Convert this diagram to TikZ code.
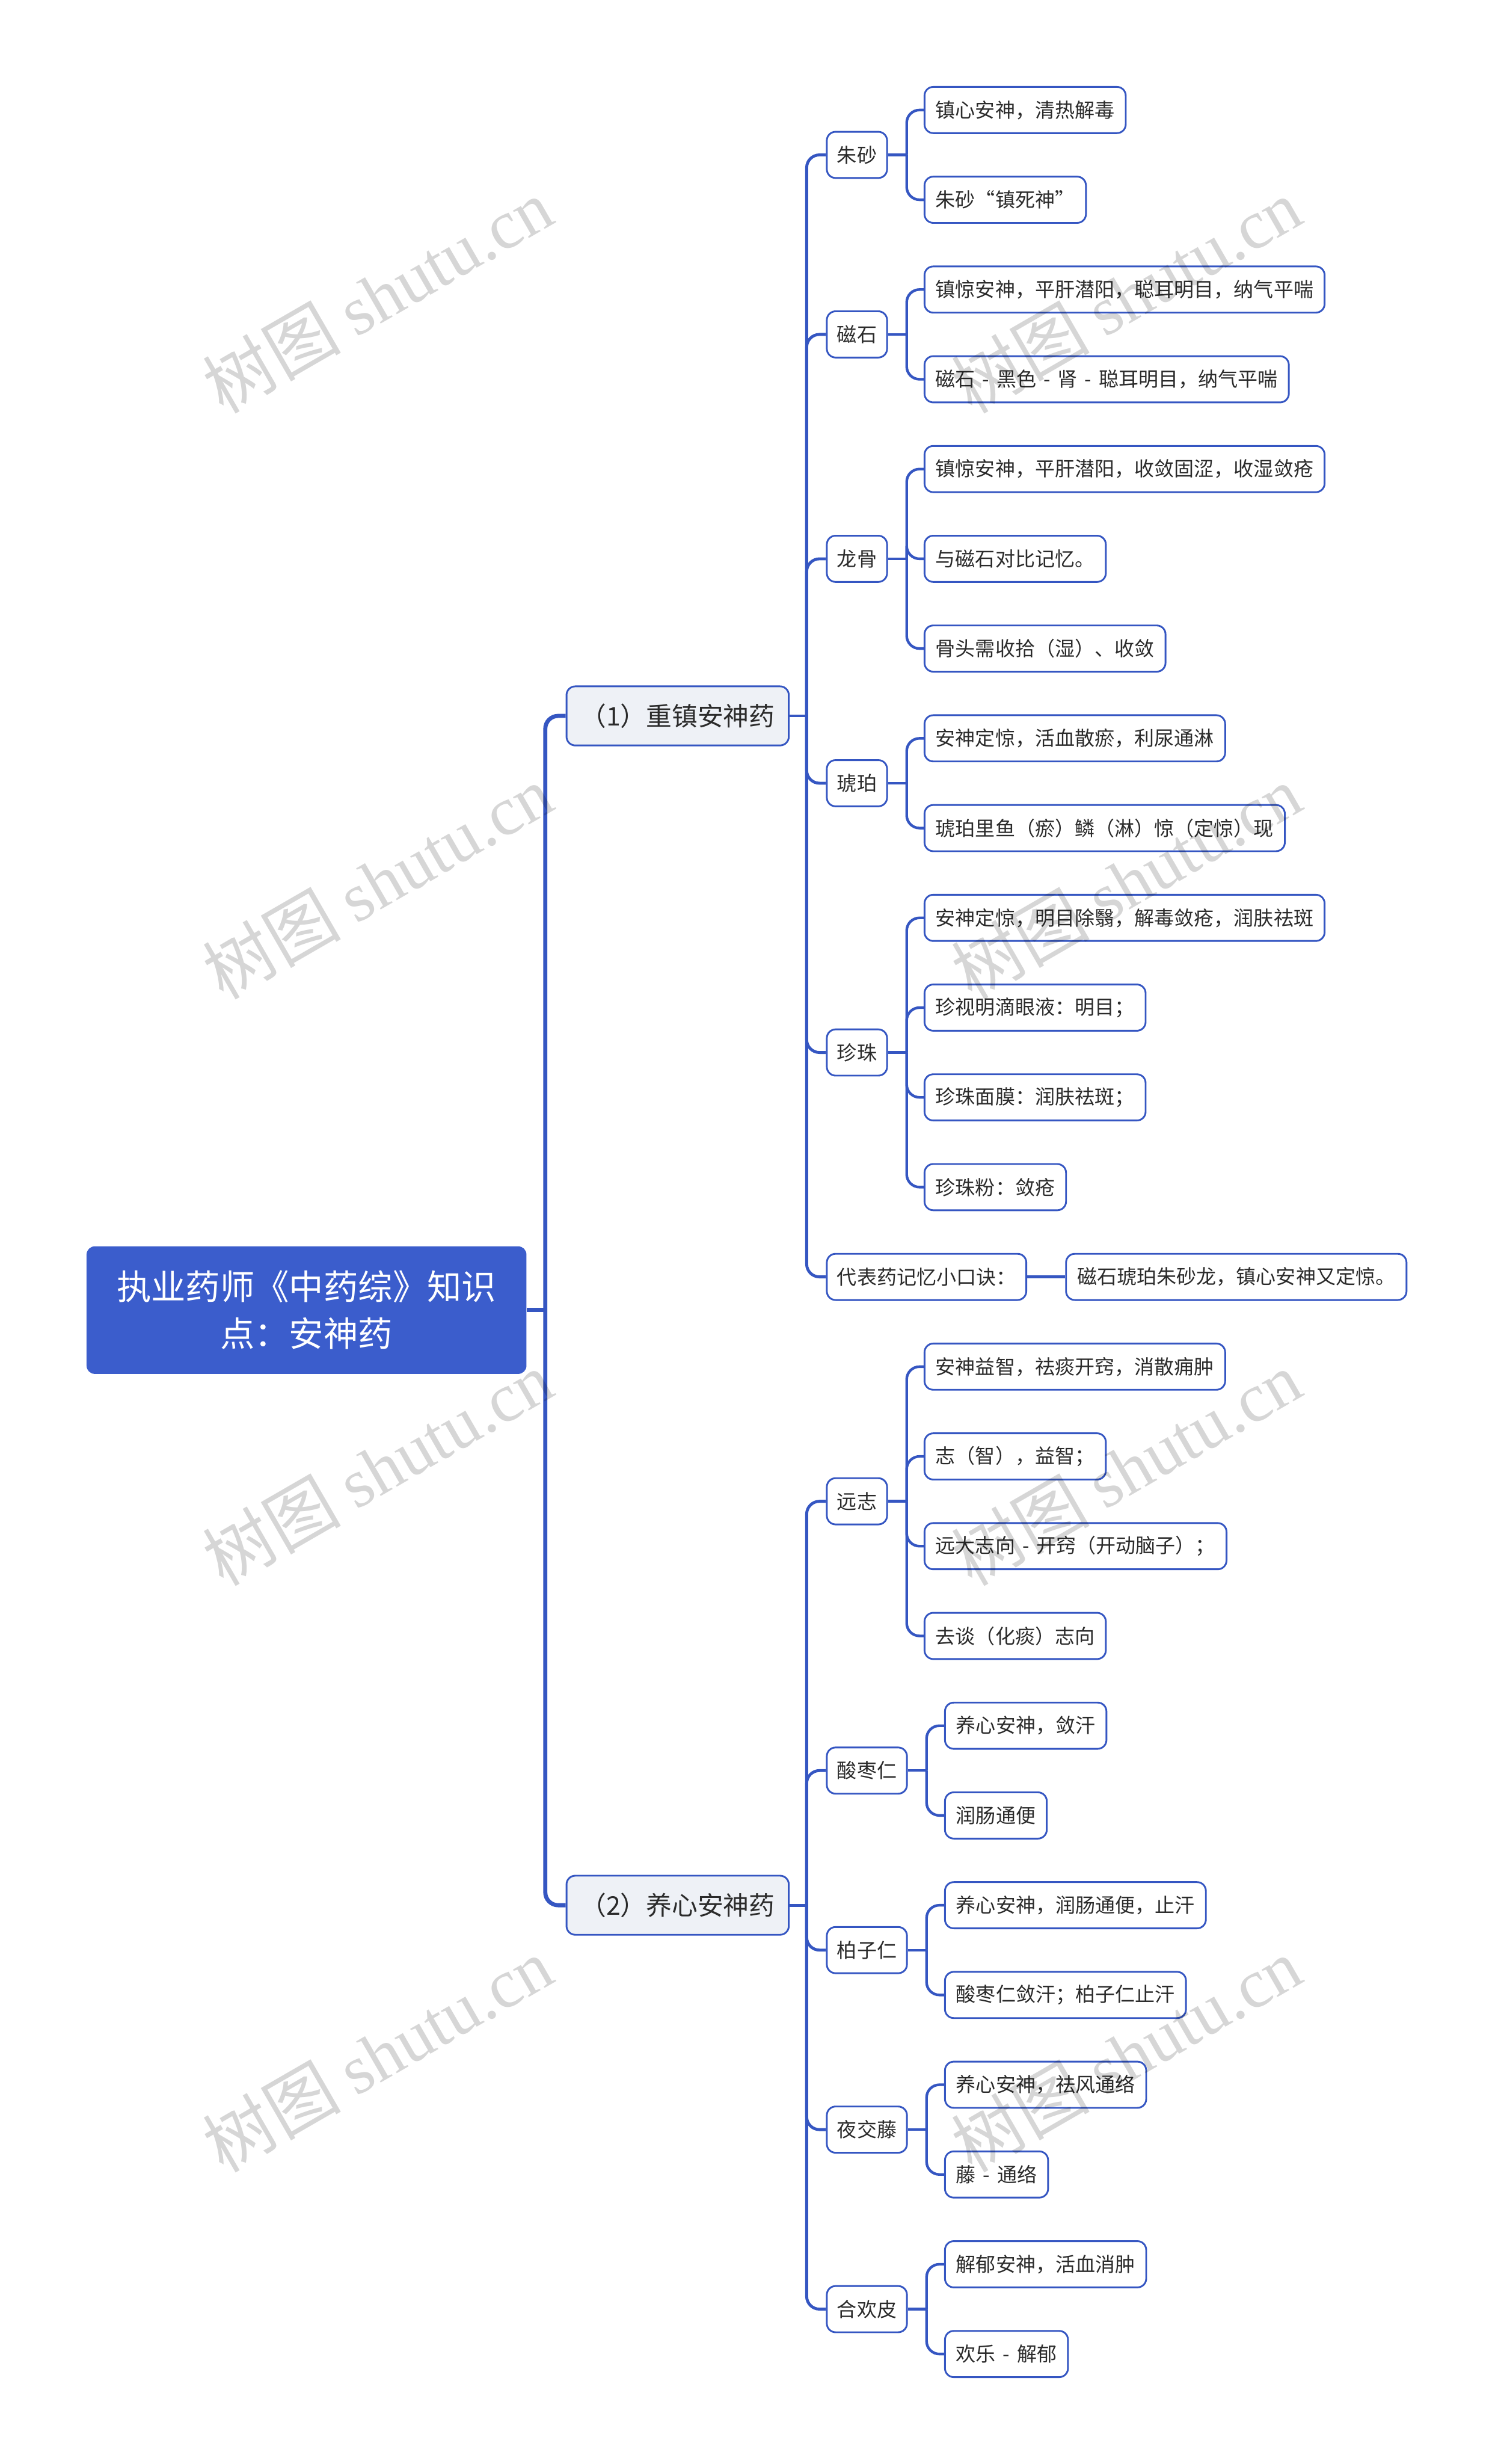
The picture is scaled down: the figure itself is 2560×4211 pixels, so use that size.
\documentclass[tikz,border=0pt]{standalone}
\usepackage{fontspec}
\setmainfont{Noto Sans CJK SC}
\newfontfamily\wmlatin{Liberation Serif}
\definecolor{lineblue}{HTML}{3556C2}
\definecolor{rootblue}{HTML}{3B5DCC}
\definecolor{secfill}{HTML}{EEF1F6}
\definecolor{txt}{HTML}{2B2B2B}
\def\R#1{(188+153.4*(#1))}
\newcommand\hy{\hspace{0.36em}-\hspace{0.36em}}
\tikzset{
  itembox/.style={draw=lineblue, line width=3pt, rounded corners=15pt, text=txt, anchor=west,
    inner xsep=17.5pt, inner ysep=0pt, minimum height=79pt, fill=white,
    font=\fontsize{34}{40}\selectfont},
  leafbox/.style={itembox, inner xsep=19pt},
  secbox/.style={itembox, fill=secfill, font=\fontsize{44}{50}\selectfont,
    minimum height=101pt, minimum width=380pt, inner xsep=0pt},
  rootbox/.style={fill=rootblue, rounded corners=14pt, text=white,
    font=\fontsize{59}{80}\selectfont, align=center, minimum width=752pt,
    minimum height=218pt, inner sep=0pt},
  rootlink/.style={draw=lineblue, line width=7pt, rounded corners=22pt},
  seclink/.style={draw=lineblue, line width=5pt, rounded corners=22pt},
  leaflink/.style={draw=lineblue, line width=4.5pt, rounded corners=22pt},
  wmark/.style={text=black, text opacity=0.16, rotate=30, font=\fontsize{118}{118}\selectfont}
}
\begin{document}
\begin{tikzpicture}[x=1pt,y=-1pt]
\fill[white] (0,0) rectangle (2560,4211);
\useasboundingbox (0,0) rectangle (2560,4211);

% root and sections
\node[rootbox] (root) at (524,2239) {执业药师《中药综》知识\\点：安神药};
\node[secbox] (s1) at (967,{\R{6.75}}) {（1）重镇安神药};
\node[secbox] (s2) at (967,{\R{20}}) {（2）养心安神药};

% level 2
\node[itembox] (zs)  at (1412,{\R{0.5}})  {朱砂};
\node[itembox] (cs)  at (1412,{\R{2.5}})  {磁石};
\node[itembox] (lg)  at (1412,{\R{5}})    {龙骨};
\node[itembox] (hp)  at (1412,{\R{7.5}})  {琥珀};
\node[itembox] (zz)  at (1412,{\R{10.5}}) {珍珠};
\node[itembox] (kj)  at (1412,{\R{13}})   {代表药记忆小口诀：};
\node[itembox] (yz)  at (1412,{\R{15.5}}) {远志};
\node[itembox] (szr) at (1412,{\R{18.5}}) {酸枣仁};
\node[itembox] (bzr) at (1412,{\R{20.5}}) {柏子仁};
\node[itembox] (yjt) at (1412,{\R{22.5}}) {夜交藤};
\node[itembox] (hhp) at (1412,{\R{24.5}}) {合欢皮};

% leaves
\node[leafbox] (l0)  at (1579,{\R{0}})  {镇心安神，清热解毒};
\node[leafbox] (l1)  at (1579,{\R{1}})  {朱砂“镇死神”};
\node[leafbox] (l2)  at (1579,{\R{2}})  {镇惊安神，平肝潜阳，聪耳明目，纳气平喘};
\node[leafbox] (l3)  at (1579,{\R{3}})  {磁石\hy 黑色\hy 肾\hy 聪耳明目，纳气平喘};
\node[leafbox] (l4)  at (1579,{\R{4}})  {镇惊安神，平肝潜阳，收敛固涩，收湿敛疮};
\node[leafbox] (l5)  at (1579,{\R{5}})  {与磁石对比记忆。};
\node[leafbox] (l6)  at (1579,{\R{6}})  {骨头需收拾（湿）、收敛};
\node[leafbox] (l7)  at (1579,{\R{7}})  {安神定惊，活血散瘀，利尿通淋};
\node[leafbox] (l8)  at (1579,{\R{8}})  {琥珀里鱼（瘀）鳞（淋）惊（定惊）现};
\node[leafbox] (l9)  at (1579,{\R{9}})  {安神定惊，明目除翳，解毒敛疮，润肤祛斑};
\node[leafbox] (l10) at (1579,{\R{10}}) {珍视明滴眼液：明目；};
\node[leafbox] (l11) at (1579,{\R{11}}) {珍珠面膜：润肤祛斑；};
\node[leafbox] (l12) at (1579,{\R{12}}) {珍珠粉：敛疮};
\node[leafbox] (l13) at (1821,{\R{13}}) {磁石琥珀朱砂龙，镇心安神又定惊。};
\node[leafbox] (l14) at (1579,{\R{14}}) {安神益智，祛痰开窍，消散痈肿};
\node[leafbox] (l15) at (1579,{\R{15}}) {志（智），益智；};
\node[leafbox] (l16) at (1579,{\R{16}}) {远大志向\hy 开窍（开动脑子）；};
\node[leafbox] (l17) at (1579,{\R{17}}) {去谈（化痰）志向};
\node[leafbox] (l18) at (1614,{\R{18}}) {养心安神，敛汗};
\node[leafbox] (l19) at (1614,{\R{19}}) {润肠通便};
\node[leafbox] (l20) at (1614,{\R{20}}) {养心安神，润肠通便，止汗};
\node[leafbox] (l21) at (1614,{\R{21}}) {酸枣仁敛汗；柏子仁止汗};
\node[leafbox] (l22) at (1614,{\R{22}}) {养心安神，祛风通络};
\node[leafbox] (l23) at (1614,{\R{23}}) {藤\hy 通络};
\node[leafbox] (l24) at (1614,{\R{24}}) {解郁安神，活血消肿};
\node[leafbox] (l25) at (1614,{\R{25}}) {欢乐\hy 解郁};

% root -> sections
\coordinate (j0) at ([xshift=32pt]root.east);
\draw[rootlink] (root.east) -- (j0);
\draw[rootlink] (j0) |- (s1.west);
\draw[rootlink] (j0) |- (s2.west);

% sections -> level 2
\coordinate (j1) at (1379,{\R{6.75}});
\coordinate (j2) at (1379,{\R{20}});
\draw[seclink] (s1.east) -- (j1);
\draw[seclink] (s2.east) -- (j2);
\foreach \c in {zs,cs,lg,hp,zz,kj} \draw[seclink] (j1) |- (\c.west);
\foreach \c in {yz,szr,bzr,yjt,hhp} \draw[seclink] (j2) |- (\c.west);

% level 2 -> leaves
\foreach \p/\kids in {zs/{l0,l1}, cs/{l2,l3}, lg/{l4,l5,l6}, hp/{l7,l8},
    zz/{l9,l10,l11,l12}, yz/{l14,l15,l16,l17}, szr/{l18,l19}, bzr/{l20,l21},
    yjt/{l22,l23}, hhp/{l24,l25}} {
  \coordinate (k\p) at ([xshift=32pt]\p.east);
  \draw[leaflink] (\p.east) -- (k\p);
  \foreach \c in \kids \draw[leaflink] (k\p) |- (\c.west);
}
\draw[leaflink] (kj.east) -- (l13.west);

% watermarks
\foreach \wx in {645,1925} \foreach \wy in {505,1507,2509,3511}
  \node[wmark] at (\wx,\wy) {树图 {\wmlatin shutu.cn}};
\end{tikzpicture}
\end{document}
